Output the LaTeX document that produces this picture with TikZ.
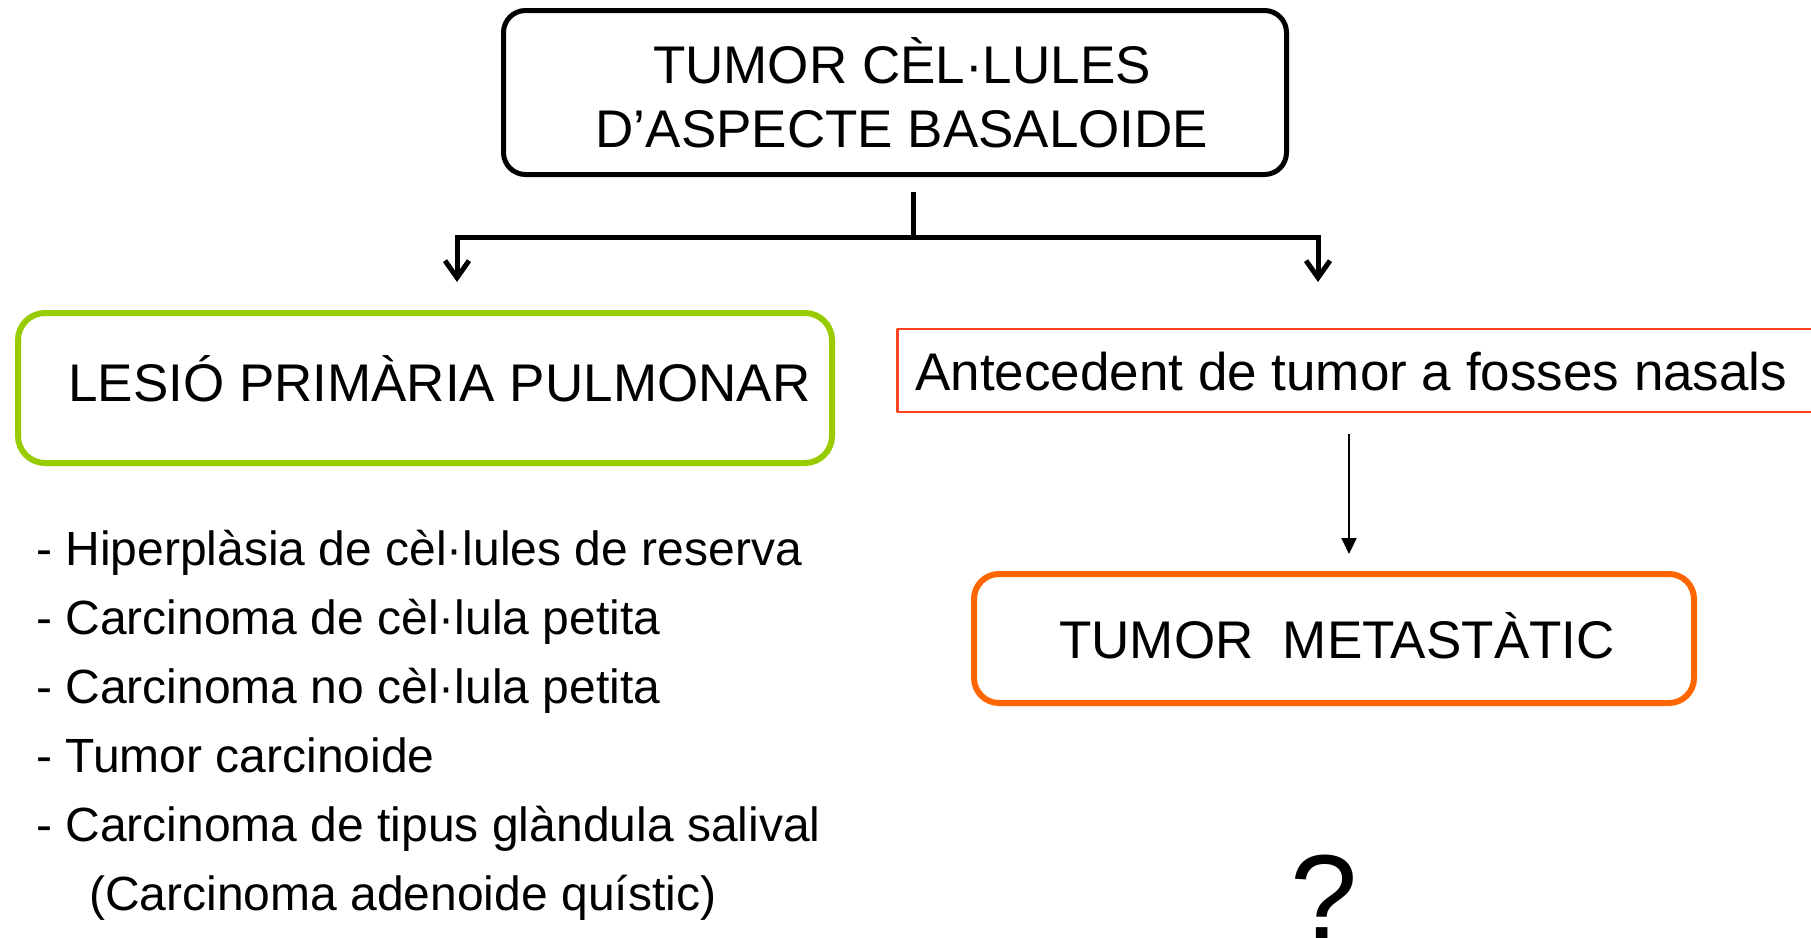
\documentclass[tikz,border=0pt]{standalone}
\usepackage{fontspec}
\setmainfont{Liberation Sans}
\usetikzlibrary{arrows.meta}
\definecolor{lgreen}{HTML}{99CC00}
\definecolor{morange}{HTML}{FF6600}
\definecolor{ared}{HTML}{FF4422}
\begin{document}
\begin{tikzpicture}[x=1pt,y=-1pt,
  txt/.style={inner sep=0pt, font=\fontsize{53}{64}\selectfont},
  lst/.style={inner sep=0pt, anchor=base west, font=\fontsize{48}{58}\selectfont},
  boxshape/.style={inner sep=0pt, line join=round},
  conn/.style={line width=5pt, line join=miter, line cap=butt},
  barb/.style={-{Straight Barb[length=17pt,width=24pt]}},
  thinarrow/.style={line width=2pt, -{Triangle[length=16pt,width=15pt]}}]
\useasboundingbox (0,0) rectangle (1811,937);
\clip (0,0) rectangle (1811,937);
\fill[white] (0,0) rectangle (1811,937);

% top box
\node[boxshape, draw=black, line width=5pt, rounded corners=22pt,
      minimum width=783pt, minimum height=164pt] (top) at (895,92.5) {};
\node[txt, anchor=base] (t1) at (902,83) {TUMOR CÈL·LULES};
\node[txt, anchor=base] (t2) at (902,147) {D’ASPECTE BASALOIDE};

% green box
\node[boxshape, draw=lgreen, line width=6pt, rounded corners=27pt,
      minimum width=814pt, minimum height=150pt] (lesio) at (425,388) {};
\node[txt, anchor=base west] (lesiot) at (68,401) {LESIÓ PRIMÀRIA PULMONAR};

% red box
\node[boxshape, draw=ared, line width=2.5pt,
      minimum width=940pt, minimum height=83pt, anchor=west] (ante) at (896,370.5) {};
\node[txt, anchor=base west] (antet) at (915,390) {Antecedent de tumor a fosses nasals};

% orange box
\node[boxshape, draw=morange, line width=6pt, rounded corners=25pt,
      minimum width=720pt, minimum height=129pt] (meta) at (1334,638.5) {};
\node[txt, anchor=base] (metat) at (1337,658) {TUMOR\ \ METASTÀTIC};

% connectors
\coordinate (s) at (913,192);
\coordinate (j) at (913,237);
\coordinate (aL) at (457,282);
\coordinate (aR) at (1318,282);
\draw[conn] (s) -- (j);
\draw[conn, barb] (j) -| (aL);
\draw[conn, barb] (j) -| (aR);

\coordinate (b1) at (1349,434);
\coordinate (b2) at (1349,554);
\draw[thinarrow] (b1) -- (b2);

% list
\node[lst] (l1) at (36,565) {- Hiperplàsia de cèl·lules de reserva};
\node[lst] (l2) at (36,634) {- Carcinoma de cèl·lula petita};
\node[lst] (l3) at (36,703) {- Carcinoma no cèl·lula petita};
\node[lst] (l4) at (36,772) {- Tumor carcinoide};
\node[lst] (l5) at (36,841) {- Carcinoma de tipus glàndula salival};
\node[lst] (l6) at (89,910) {(Carcinoma adenoide quístic)};

% question mark
\node[inner sep=0pt, anchor=base, font=\fontsize{121}{130}\selectfont] (q) at (1324,939) {?};
\end{tikzpicture}
\end{document}
